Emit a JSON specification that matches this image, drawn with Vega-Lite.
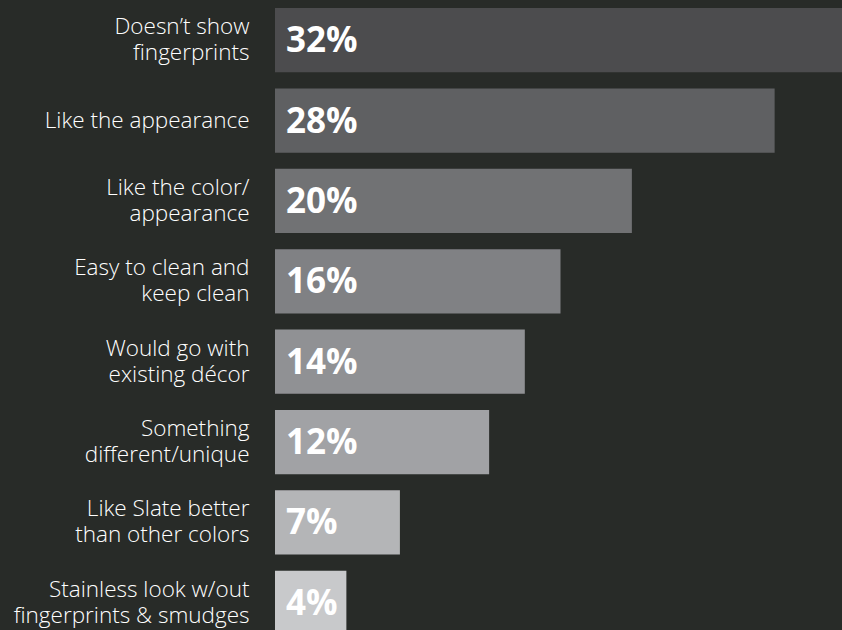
{
  "$schema": "https://vega.github.io/schema/vega-lite/v6.json",
  "autosize": "none",
  "padding": {"left": 275, "top": 0, "right": 0, "bottom": 0},
  "width": 571,
  "height": 643,
  "background": "#282b28",
  "config": {
    "view": {"stroke": null},
    "font": "Open Sans"
  },
  "data": {
    "values": [
      {"reason": "Doesn’t show|fingerprints", "value": 32, "label": "32%"},
      {"reason": "Like the appearance", "value": 28, "label": "28%"},
      {"reason": "Like the color/|appearance", "value": 20, "label": "20%"},
      {"reason": "Easy to clean and|keep clean", "value": 16, "label": "16%"},
      {"reason": "Would go with|existing décor", "value": 14, "label": "14%"},
      {"reason": "Something|different/unique", "value": 12, "label": "12%"},
      {"reason": "Like Slate better|than other colors", "value": 7, "label": "7%"},
      {"reason": "Stainless look w/out|fingerprints & smudges", "value": 4, "label": "4%"}
    ]
  },
  "encoding": {
    "y": {
      "field": "reason",
      "type": "nominal",
      "sort": null,
      "scale": {"paddingInner": 0.2, "paddingOuter": 0.1},
      "axis": {
        "title": null,
        "ticks": false,
        "domain": false,
        "labelPadding": 26,
        "labelFont": "Open Sans",
        "labelFontWeight": 300,
        "labelFontSize": 22.5,
        "labelColor": "#ffffff",
        "labelLineHeight": 26,
        "labelLimit": 300,
        "labelOffset": {"expr": "indexof(datum.value, '|') >= 0 ? -13 : 0"},
        "labelExpr": "split(datum.value, '|')"
      }
    }
  },
  "layer": [
    {
      "mark": {"type": "bar"},
      "encoding": {
        "x": {"field": "value", "type": "quantitative", "scale": {"domain": [0, 32], "nice": false}, "axis": null},
        "color": {
          "field": "reason",
          "type": "nominal",
          "legend": null,
          "scale": {
            "domain": ["Doesn’t show|fingerprints", "Like the appearance", "Like the color/|appearance", "Easy to clean and|keep clean", "Would go with|existing décor", "Something|different/unique", "Like Slate better|than other colors", "Stainless look w/out|fingerprints & smudges"],
            "range": ["#4c4c4e", "#5f6062", "#717274", "#808184", "#909194", "#a1a2a5", "#b4b5b7", "#c8c9cb"]
          }
        }
      }
    },
    {
      "mark": {"type": "text", "align": "left", "baseline": "middle", "dx": 11, "dy": 1, "fontSize": 35, "fontWeight": "bold", "color": "#ffffff", "font": "Open Sans"},
      "encoding": {
        "x": {"datum": 0, "type": "quantitative"},
        "text": {"field": "label"}
      }
    }
  ]
}
